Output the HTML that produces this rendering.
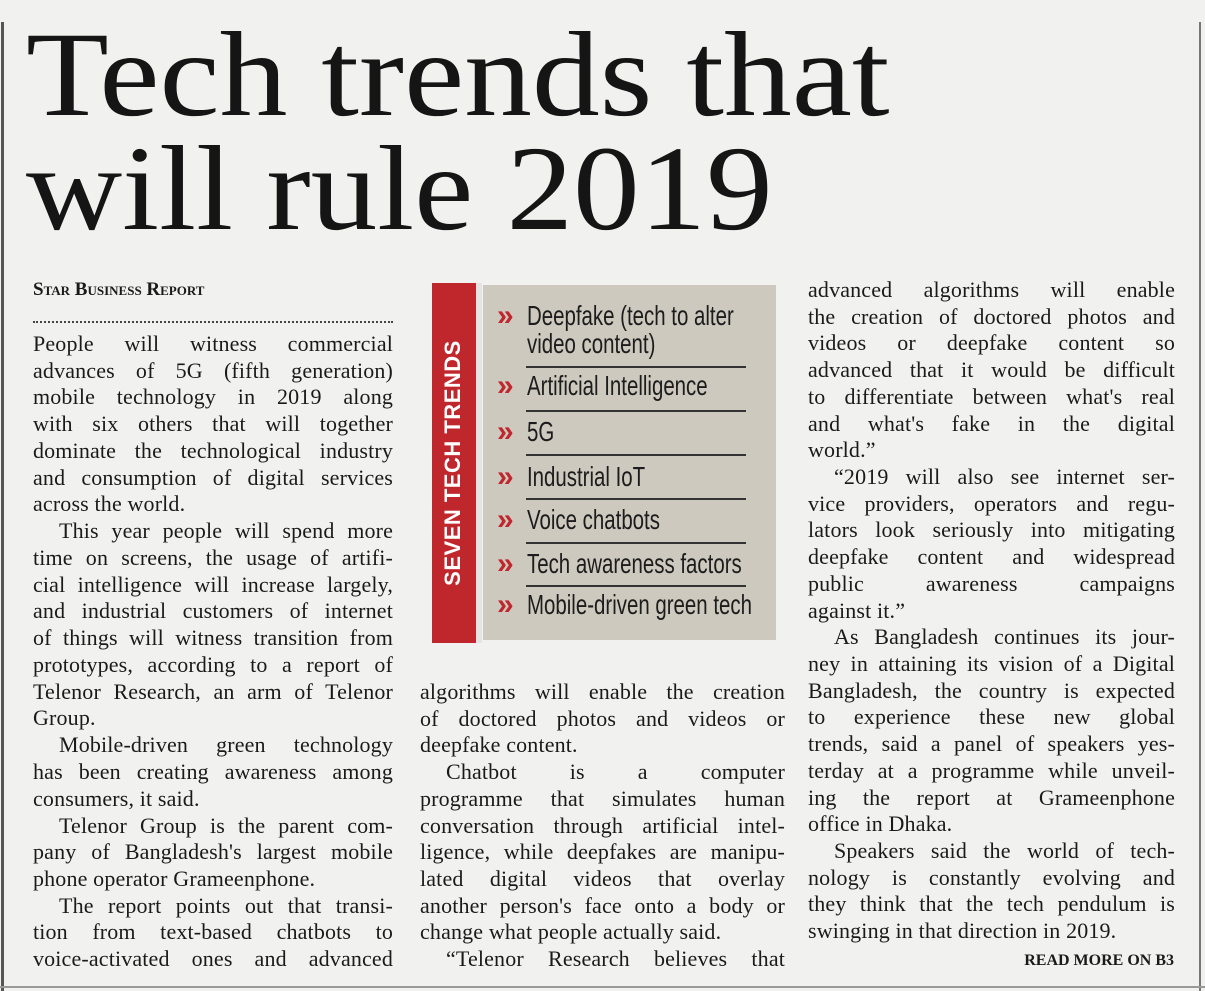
<!DOCTYPE html>
<html><head><meta charset="utf-8"><style>
body{margin:0;width:1205px;height:991px;background:#f1f1f0;position:relative;overflow:hidden;font-family:"Liberation Serif",serif;color:#1a1a1a}
.l{position:absolute;font-size:22px;line-height:27px;height:27px;white-space:nowrap;text-align:justify;text-align-last:justify;letter-spacing:0.15px}
.c1{left:33px;width:360px}.c2{left:420px;width:365px}.c3{left:808px;width:367px}
.L{text-align-last:left}
.in{text-indent:26px}
.h{position:absolute;left:26px;font-size:121px;line-height:1;white-space:nowrap;color:#151515;transform-origin:left}
.it{position:absolute;left:527px;font-family:"Liberation Sans Narrow","Liberation Sans",sans-serif;font-size:28px;line-height:28px;white-space:nowrap;color:#1c1c1c;transform:scaleX(0.73);transform-origin:left}
.ch{position:absolute;left:497px;color:#c0272d;font-family:"Liberation Sans",sans-serif;font-weight:bold;font-size:30px;line-height:28px}
.rl{position:absolute;left:526px;width:220px;height:2px;background:#333}
</style></head><body>
<div style="position:absolute;left:1px;top:22px;width:3px;height:969px;background:#555"></div>
<div style="position:absolute;left:1199px;top:22px;width:2px;height:969px;background:#777"></div>
<div style="position:absolute;left:0;top:986px;width:1205px;height:2px;background:#999"></div>
<div class="h" style="top:15px;transform:scaleX(1.12)">Tech trends that</div>
<div class="h" style="top:129px;transform:scaleX(1.10)">will rule 2019</div>
<div style="position:absolute;left:33px;top:279px;font-size:19px;font-weight:bold;font-variant:small-caps;white-space:nowrap">Star Business Report</div>
<div style="position:absolute;left:33px;top:321px;width:360px;border-top:2px dotted #444"></div>

<div class="l c1" style="top:330px">People will witness commercial</div>
<div class="l c1" style="top:357px">advances of 5G (fifth generation)</div>
<div class="l c1" style="top:383px">mobile technology in 2019 along</div>
<div class="l c1" style="top:410px">with six others that will together</div>
<div class="l c1" style="top:437px">dominate the technological industry</div>
<div class="l c1" style="top:464px">and consumption of digital services</div>
<div class="l c1 L" style="top:490px">across the world.</div>
<div class="l c1 in" style="top:517px">This year people will spend more</div>
<div class="l c1" style="top:544px">time on screens, the usage of artifi-</div>
<div class="l c1" style="top:571px">cial intelligence will increase largely,</div>
<div class="l c1" style="top:597px">and industrial customers of internet</div>
<div class="l c1" style="top:624px">of things will witness transition from</div>
<div class="l c1" style="top:651px">prototypes, according to a report of</div>
<div class="l c1" style="top:678px">Telenor Research, an arm of Telenor</div>
<div class="l c1 L" style="top:704px">Group.</div>
<div class="l c1 in" style="top:731px">Mobile-driven green technology</div>
<div class="l c1" style="top:758px">has been creating awareness among</div>
<div class="l c1 L" style="top:785px">consumers, it said.</div>
<div class="l c1 in" style="top:812px">Telenor Group is the parent com-</div>
<div class="l c1" style="top:838px">pany of Bangladesh's largest mobile</div>
<div class="l c1 L" style="top:865px">phone operator Grameenphone.</div>
<div class="l c1 in" style="top:892px">The report points out that transi-</div>
<div class="l c1" style="top:918px">tion from text-based chatbots to</div>
<div class="l c1" style="top:945px">voice-activated ones and advanced</div>

<div style="position:absolute;left:432px;top:283px;width:44px;height:360px;background:#c0272d"></div>
<div style="position:absolute;left:476px;top:283px;width:6px;height:360px;background:#e4e4e4"></div>
<div style="position:absolute;left:483px;top:285px;width:293px;height:355px;background:#cdc9be"></div>
<div style="position:absolute;left:453px;top:463px;transform:translate(-50%,-50%) rotate(-90deg);color:#fff;font-family:'Liberation Sans Narrow','Liberation Sans',sans-serif;font-weight:bold;font-size:22px;white-space:nowrap;letter-spacing:0.5px">SEVEN TECH TRENDS</div>
<div class="ch" style="top:302px">»</div><div class="it" style="top:302px">Deepfake (tech to alter</div>
<div class="it" style="top:330px">video content)</div>
<div class="rl" style="top:366px"></div>
<div class="ch" style="top:372px">»</div><div class="it" style="top:372px">Artificial Intelligence</div>
<div class="rl" style="top:410px"></div>
<div class="ch" style="top:418px">»</div><div class="it" style="top:418px">5G</div>
<div class="rl" style="top:454px"></div>
<div class="ch" style="top:463px">»</div><div class="it" style="top:463px">Industrial IoT</div>
<div class="rl" style="top:498px"></div>
<div class="ch" style="top:506px">»</div><div class="it" style="top:506px">Voice chatbots</div>
<div class="rl" style="top:542px"></div>
<div class="ch" style="top:550px">»</div><div class="it" style="top:550px">Tech awareness factors</div>
<div class="rl" style="top:585px"></div>
<div class="ch" style="top:591px">»</div><div class="it" style="top:591px">Mobile-driven green tech</div>

<div class="l c2" style="top:678px">algorithms will enable the creation</div>
<div class="l c2" style="top:705px">of doctored photos and videos or</div>
<div class="l c2 L" style="top:731px">deepfake content.</div>
<div class="l c2 in" style="top:758px">Chatbot is a computer</div>
<div class="l c2" style="top:785px">programme that simulates human</div>
<div class="l c2" style="top:812px">conversation through artificial intel-</div>
<div class="l c2" style="top:838px">ligence, while deepfakes are manipu-</div>
<div class="l c2" style="top:865px">lated digital videos that overlay</div>
<div class="l c2" style="top:892px">another person's face onto a body or</div>
<div class="l c2 L" style="top:918px">change what people actually said.</div>
<div class="l c2 in" style="top:945px">“Telenor Research believes that</div>

<div class="l c3" style="top:276px">advanced algorithms will enable</div>
<div class="l c3" style="top:303px">the creation of doctored photos and</div>
<div class="l c3" style="top:329px">videos or deepfake content so</div>
<div class="l c3" style="top:356px">advanced that it would be difficult</div>
<div class="l c3" style="top:383px">to differentiate between what's real</div>
<div class="l c3" style="top:410px">and what's fake in the digital</div>
<div class="l c3 L" style="top:436px">world.”</div>
<div class="l c3 in" style="top:463px">“2019 will also see internet ser-</div>
<div class="l c3" style="top:490px">vice providers, operators and regu-</div>
<div class="l c3" style="top:516px">lators look seriously into mitigating</div>
<div class="l c3" style="top:543px">deepfake content and widespread</div>
<div class="l c3" style="top:570px">public awareness campaigns</div>
<div class="l c3 L" style="top:597px">against it.”</div>
<div class="l c3 in" style="top:623px">As Bangladesh continues its jour-</div>
<div class="l c3" style="top:650px">ney in attaining its vision of a Digital</div>
<div class="l c3" style="top:677px">Bangladesh, the country is expected</div>
<div class="l c3" style="top:703px">to experience these new global</div>
<div class="l c3" style="top:730px">trends, said a panel of speakers yes-</div>
<div class="l c3" style="top:757px">terday at a programme while unveil-</div>
<div class="l c3" style="top:784px">ing the report at Grameenphone</div>
<div class="l c3 L" style="top:810px">office in Dhaka.</div>
<div class="l c3 in" style="top:837px">Speakers said the world of tech-</div>
<div class="l c3" style="top:864px">nology is constantly evolving and</div>
<div class="l c3" style="top:890px">they think that the tech pendulum is</div>
<div class="l c3 L" style="top:917px">swinging in that direction in 2019.</div>
<div style="position:absolute;right:31px;top:952px;font-size:16px;font-weight:bold;white-space:nowrap">READ MORE ON B3</div>
</body></html>
